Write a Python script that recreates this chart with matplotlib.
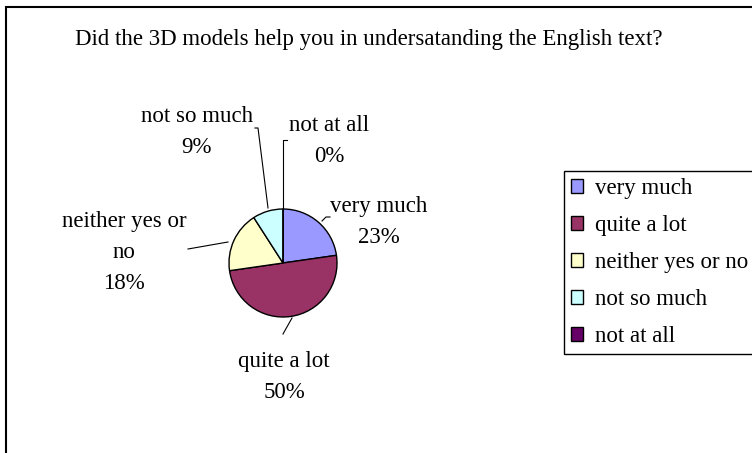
import matplotlib.pyplot as plt
from matplotlib.patches import Rectangle

# survey answers (counts)
categories = ["very much", "quite a lot", "neither yes or no", "not so much", "not at all"]
counts = [5, 11, 4, 2, 0]
colors = ["#9999FF", "#993366", "#FFFFCC", "#CCFFFF", "#660066"]
title = "Did the 3D models help you in undersatanding the English text?"

W, H = 752, 453
plt.rcParams['font.family'] = ['Liberation Serif', 'DejaVu Serif']
FS = 16.5

fig = plt.figure(figsize=(W / 100, H / 100), dpi=100)
ax = fig.add_axes([0, 0, 1, 1])

def sy(y):
    # screen y (top down) -> data y
    return H - y

wedges, _ = ax.pie(counts, colors=colors, startangle=90, counterclock=False,
                   center=(283, sy(263)), radius=54,
                   wedgeprops=dict(edgecolor='black', linewidth=1.0))
ax.set_xlim(0, W)
ax.set_ylim(0, H)
ax.axis('off')

total = sum(counts)
pcts = [f"{round(c / total * 100)}%" for c in counts]

# label layout: (label lines, centre x, first baseline y, leader line points)
layout = [
    (["very much"], 379, 212, [(322, 221), (326, 217), (330, 217)]),
    (["quite a lot"], 284, 367, [(292, 318), (283, 334)]),
    (["neither yes or", "no"], 124, 227, [(228, 242), (188, 249)]),
    (["not so much"], 197, 122, [(268, 208), (258, 128), (255, 128)]),
    (["not at all"], 329, 131, [(283, 208), (283, 140), (287, 140)]),
]
step = 31
for (lines, cx, by, pts), pct in zip(layout, pcts):
    for i, line in enumerate(lines + [pct]):
        ax.text(cx, sy(by + i * step), line, ha='center', va='baseline', fontsize=FS)
    ax.plot([p[0] for p in pts], [sy(p[1]) for p in pts], color='black', lw=0.8)

fig.text(369 / W, 1 - 45 / H, title, ha='center', va='baseline', fontsize=FS)

leg = ax.legend(wedges, categories, loc='upper left',
                bbox_to_anchor=(564 / W, 1 - 171 / H), bbox_transform=fig.transFigure,
                fontsize=FS, frameon=True, fancybox=False, framealpha=1,
                edgecolor='black', borderaxespad=0, borderpad=0.3,
                handlelength=0.52, handleheight=0.55, handletextpad=0.52,
                labelspacing=0.70)
leg.get_frame().set_linewidth(1.0)

# outer chart border (runs off the right and bottom edges)
fig.patches.append(Rectangle((6 / W, -0.1), 2, 1 - 7 / H + 0.1, transform=fig.transFigure,
                             fill=False, edgecolor='black', lw=1.5))

fig.savefig("out.png", dpi=100)
